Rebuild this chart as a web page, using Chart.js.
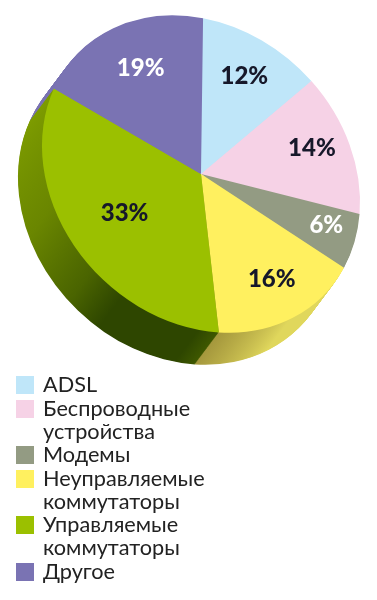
<!DOCTYPE html>
<html>
<head>
<meta charset="utf-8">
<script src="https://cdn.jsdelivr.net/npm/chart.js@4"></script>
<style>
  html, body { margin: 0; padding: 0; background: #fff; }
  #wrap { position: relative; width: 377px; height: 600px; overflow: hidden; }
  #pie { position: absolute; left: 0; top: 0; }
  .legend-item { position: absolute; left: 43px; font: 21.7px/23.3px Lato, sans-serif; color: #222; white-space: nowrap; }
  .legend-box { position: absolute; left: -27px; top: 3px; width: 18px; height: 18px; }
</style>
</head>
<body>
<div id="wrap">
  <canvas id="pie" width="377" height="600"></canvas>
  <div id="legend"></div>
</div>
<script>
const categories = ['ADSL', 'Беспроводные устройства', 'Модемы', 'Неуправляемые коммутаторы', 'Управляемые коммутаторы', 'Другое'];
const legendLines = [['ADSL'], ['Беспроводные', 'устройства'], ['Модемы'], ['Неуправляемые', 'коммутаторы'], ['Управляемые', 'коммутаторы'], ['Другое']];
const values = [12, 14, 6, 16, 33, 19];
const colors = ['#bfe6f9', '#f6d2e6', '#939b83', '#fff05f', '#9bc000', '#7a73b3'];
const labelColors = ['#16182a', '#16182a', '#ffffff', '#16182a', '#16182a', '#ffffff'];
const labelRadius = [0.7, 0.74, 0.81, 0.76, 0.61, 0.7];
const legendTops = [373, 397, 443, 467, 513, 560];

// the pie in the picture is tilted, so the face is skewed and the rim is pushed down-left
const skew = [1, 0.19, -0.013, 0.98];
const rimX = -24, rimY = 32;

function applySkew(ctx, cx, cy) {
  ctx.translate(cx, cy);
  ctx.transform(skew[0], skew[1], skew[2], skew[3], 0, 0);
  ctx.translate(-cx, -cy);
}

function rimFill(ctx, index) {
  // green and yellow are the only rims that really show, purple just a sliver
  if (index === 3) {
    const g = ctx.createLinearGradient(190, 364, 300, 324);
    g.addColorStop(0, '#85762c');
    g.addColorStop(1, '#e0d75c');
    return g;
  }
  if (index === 4) {
    const g = ctx.createLinearGradient(30, 130, 190, 364);
    g.addColorStop(0, '#7d9c00');
    g.addColorStop(0.35, '#6a8600');
    g.addColorStop(0.6, '#4a6400');
    g.addColorStop(0.72, '#2e4600');
    g.addColorStop(0.93, '#2e4600');
    g.addColorStop(1, '#4d6800');
    return g;
  }
  return colors[index];
}

const tiltedPie = {
  id: 'tiltedPie',
  beforeDatasetsDraw(chart) {
    const ctx = chart.ctx;
    const arcs = chart.getDatasetMeta(0).data;
    const cx = arcs[0].x, cy = arcs[0].y;
    ctx.save();
    const fills = arcs.map((a, i) => rimFill(ctx, i));
    for (let k = 1; k >= 0.02; k -= 0.02) {
      ctx.save();
      ctx.translate(rimX * k, rimY * k);
      applySkew(ctx, cx, cy);
      arcs.forEach((a, i) => {
        ctx.beginPath();
        ctx.moveTo(a.x, a.y);
        ctx.arc(a.x, a.y, a.outerRadius, a.startAngle, a.endAngle);
        ctx.closePath();
        ctx.fillStyle = fills[i];
        ctx.fill();
      });
      ctx.restore();
    }
    applySkew(ctx, cx, cy);
  },
  afterDatasetsDraw(chart) {
    const ctx = chart.ctx;
    ctx.restore();
    const arcs = chart.getDatasetMeta(0).data;
    ctx.save();
    ctx.font = '900 24px Lato, sans-serif';
    ctx.textAlign = 'center';
    ctx.textBaseline = 'middle';
    arcs.forEach((a, i) => {
      const mid = (a.startAngle + a.endAngle) / 2;
      const dx = Math.cos(mid) * a.outerRadius * labelRadius[i];
      const dy = Math.sin(mid) * a.outerRadius * labelRadius[i];
      ctx.fillStyle = labelColors[i];
      // labels hang off the printed apex, a few px above the pie centre
      ctx.fillText(values[i] + '%', a.x + 1 + skew[0] * dx + skew[2] * dy, a.y - 4 + skew[1] * dx + skew[3] * dy);
    });
    ctx.restore();
  }
};

new Chart(document.getElementById('pie'), {
  type: 'pie',
  data: {
    labels: categories,
    datasets: [{
      data: values,
      backgroundColor: colors,
      borderWidth: 0,
      clip: false
    }]
  },
  options: {
    responsive: false,
    animation: false,
    layout: { padding: { left: 42, right: 17, top: 15, bottom: 267 } },
    plugins: { legend: { display: false }, tooltip: { enabled: false } }
  },
  plugins: [tiltedPie]
});

// legend wraps on two lines like the print version, easier in plain html
const legend = document.getElementById('legend');
legendLines.forEach((lines, i) => {
  const item = document.createElement('div');
  item.className = 'legend-item';
  item.style.top = legendTops[i] + 'px';
  item.innerHTML = '<span class="legend-box" style="background:' + colors[i] + '"></span>' + lines.join('<br>');
  legend.appendChild(item);
});
</script>
</body>
</html>
